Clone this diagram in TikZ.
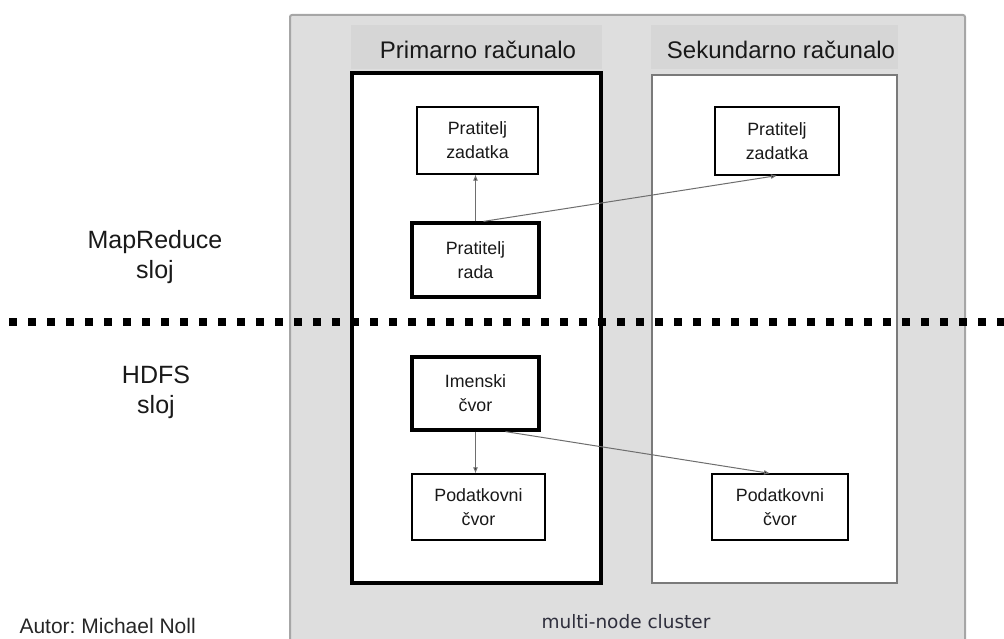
\documentclass[tikz,border=0pt]{standalone}
\usepackage{fontspec}
\setmainfont{Liberation Sans}
\newfontfamily\clusterfont{DejaVu Sans}
\usetikzlibrary{arrows.meta}
\definecolor{outerfill}{HTML}{DEDEDE}
\definecolor{headfill}{HTML}{D6D6D6}
\definecolor{outerline}{HTML}{A6A6A6}
\definecolor{secline}{HTML}{7A7A7A}
\definecolor{arrline}{HTML}{6E6E6E}
\definecolor{clustertext}{HTML}{2E2E3C}
\frenchspacing
\begin{document}
\begin{tikzpicture}[x=1pt,y=-1pt,
  nodebox/.style={draw=black, fill=white, line width=1.2pt, inner sep=0pt, align=center,
    font=\fontsize{17.8}{24}\selectfont, text=black!90},
  thickbox/.style={nodebox, line width=3.2pt},
  arr/.style={draw=arrline, line width=1pt, -{Latex[length=6pt,width=5pt,fill=black]}},
  headtext/.style={font=\fontsize{24}{28}\selectfont, text=black!90},
  sidetext/.style={align=center, font=\fontsize{25}{30}\selectfont, text=black!90}]
\useasboundingbox (0,0) rectangle (1004,639);
% outer cluster box
\draw[draw=outerline, fill=outerfill, line width=2pt, rounded corners=2pt] (290,15) rectangle (965,660);
% headers
\fill[headfill] (351,25) rectangle (602,69);
\fill[headfill] (651,25) rectangle (898,69);
\node[headtext] (hp) at (478,50) {Primarno računalo};
\node[headtext] (hs) at (781,50) {Sekundarno računalo};
% machine boxes
\draw[draw=black, fill=white, line width=4pt] (352,73) rectangle (601,583);
\draw[draw=secline, fill=white, line width=1.5pt] (652,75) rectangle (897,583);
% dotted separator
\draw[line width=8pt, dash pattern=on 8pt off 11pt, dash phase=-9pt] (0,322) -- (1004,322);
% nodes
\node[nodebox, minimum width=121pt, minimum height=67pt] (pz1) at (477.5,140.5) {Pratitelj\\zadatka};
\node[nodebox, minimum width=124pt, minimum height=68pt] (pz2) at (777,141) {Pratitelj\\zadatka};
\node[thickbox, minimum width=127pt, minimum height=74pt] (pr) at (475.5,260) {Pratitelj\\rada};
\node[thickbox, minimum width=127pt, minimum height=73pt] (ic) at (475.5,393.5) {Imenski\\čvor};
\node[nodebox, minimum width=133pt, minimum height=66pt] (pd1) at (478.5,507) {Podatkovni\\čvor};
\node[nodebox, minimum width=136pt, minimum height=66pt] (pd2) at (780,507) {Podatkovni\\čvor};
% connectors
\draw[arr] (pr.north) -- (pr.north |- pz1.south);
\draw[arr] ([xshift=8pt]pr.north) -- (pz2.south);
\draw[arr] (ic.south) -- (ic.south |- pd1.north);
\draw[arr] ([xshift=30pt]ic.south) -- ([xshift=-10pt]pd2.north);
% side labels
\node[sidetext] (mr) at (155,257) {MapReduce\\sloj};
\node[sidetext] (hd) at (156,392) {HDFS\\sloj};
\node[font=\fontsize{21}{25}\selectfont, text=black!85, anchor=west] (autor) at (16,626) {Autor: Michael Noll};
\node[font=\clusterfont\fontsize{18.5}{22}\selectfont, text=clustertext] (cl) at (626,622) {multi-node cluster};
\end{tikzpicture}
\end{document}
